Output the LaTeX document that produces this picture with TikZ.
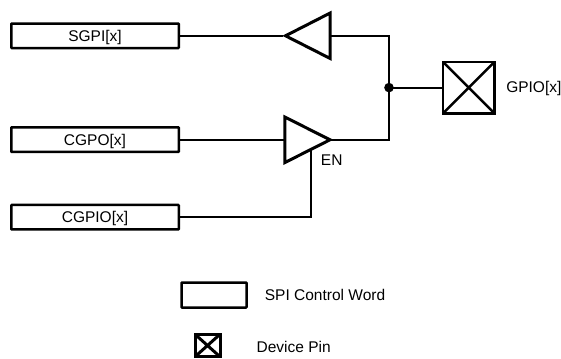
\documentclass[tikz,border=0pt]{standalone}
\usepackage{fontspec}
\setmainfont{Liberation Sans}
\usetikzlibrary{calc}
\tikzset{
  capfont/.style={font=\fontsize{15.5}{17}\selectfont,text height=11pt,text depth=0pt},
  wordbox/.style={draw=black,line width=2.5pt,rounded corners=0.6pt,minimum height=24.5pt,inner sep=0pt,fill=white,capfont},
  pinbox/.style={draw=black,line width=#1,minimum width=51.5pt,minimum height=51.5pt,inner sep=0pt,path picture={\draw[line width=#1] (path picture bounding box.north west)--(path picture bounding box.south east) (path picture bounding box.north east)--(path picture bounding box.south west);}},
  wire/.style={draw=black,line width=1.9pt},
  buf/.style={draw=black,line width=3pt,miter limit=10,fill=white},
  lbl/.style={inner sep=0pt,capfont}
}
\begin{document}
\begin{tikzpicture}[x=1pt,y=-1pt]
\useasboundingbox (0,0) rectangle (561,358);
\node[wordbox,minimum width=167.5pt] (sgpi) at (95,35.8) {SGPI[x]};
\node[wordbox,minimum width=167.5pt] (cgpo) at (95,139.6) {CGPO[x]};
\node[wordbox,minimum width=167.5pt] (cgpio) at (95,217.2) {CGPIO[x]};
\node[pinbox=2.5pt] (pin) at (468.7,87.6) {};
\coordinate (t1tip) at (283,35.8);
\coordinate (t1base) at (330,35.8);
\coordinate (t2base) at (284,139.6);
\coordinate (t2tip) at (331,139.6);
\coordinate (en) at (310.7,150);
\coordinate (j) at (389,87.6);
\draw[wire] (sgpi.east) -- (t1tip);
\draw[wire] (cgpo.east) -- (t2base);
\draw[wire] (cgpio.east) -| (en);
\draw[wire] (t1base) -| (j) |- (t2tip);
\draw[wire] (j) -- (pin.west);
\fill (j) circle (4.8pt);
\draw[buf] (285.5,35.8) -- (330.2,13) -- (330.2,58.5) -- cycle;
\draw[buf] (284.8,117) -- (284.8,162.6) -- (330,139.8) -- cycle;
\node[lbl] (enl) at (331.7,160) {EN};
\node[lbl] (gpiol) at (533.8,87.5) {GPIO[x]};
\node[wordbox,minimum width=65pt,minimum height=25pt] (lw) at (214,295) {};
\node[pinbox=3pt,minimum width=25pt,minimum height=22.5pt] (lp) at (207.5,345.5) {};
\node[lbl] (lwl) at (325,294.5) {SPI Control Word};
\node[lbl] (lpl) at (293.7,346.8) {Device Pin};
\end{tikzpicture}
\end{document}
